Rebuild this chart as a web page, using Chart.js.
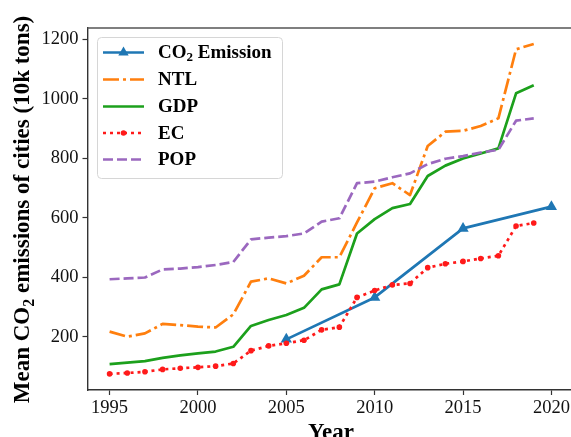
<!DOCTYPE html>
<html>
<head>
<meta charset="utf-8">
<script src="https://cdn.jsdelivr.net/npm/chart.js@4"></script>
<style>
  html, body { margin: 0; padding: 0; background: #fff; overflow: hidden; width: 571px; height: 437px; }
  canvas { display: block; }
</style>
</head>
<body>
<canvas id="c" width="580" height="437"></canvas>
<script>
// Annual series, 1995-2019 (10k tons, mean per city)
const years = [1995, 1996, 1997, 1998, 1999, 2000, 2001, 2002, 2003, 2004, 2005, 2006, 2007,
               2008, 2009, 2010, 2011, 2012, 2013, 2014, 2015, 2016, 2017, 2018, 2019];
const ntl = [218, 201, 212, 244, 240, 235, 232, 276, 386, 397, 380, 406, 468,
             468, 585, 700, 717, 677, 842, 890, 893, 909, 935, 1167, 1185];
const gdp = [109, 114, 119, 130, 138, 145, 151, 167, 237, 257, 274, 298, 360,
             377, 548, 596, 633, 647, 741, 776, 800, 817, 834, 1019, 1046];
const ec  = [76, 79, 83, 91, 95, 98, 102, 111, 154, 170, 179, 189, 224,
             233, 333, 356, 375, 380, 433, 446, 454, 464, 473, 573, 583];
const pop = [394, 397, 400, 427, 430, 435, 442, 452, 528, 534, 539, 548, 588,
             599, 717, 722, 737, 750, 781, 799, 808, 820, 829, 927, 935];
// Five-yearly emission figures
const co2Years = [2005, 2010, 2015, 2020];
const co2 = [192, 333, 565, 638];

const xTicks = [1995, 2000, 2005, 2010, 2015, 2020];
const yTicks = [200, 400, 600, 800, 1000, 1200];

const SERIF = '"Liberation Serif", "Times New Roman", "DejaVu Serif", serif';
const C_BLUE = '#1f77b4', C_ORANGE = '#ff7f0e', C_GREEN = '#1ca01c', C_RED = '#ff1a1a', C_PURPLE = '#9b68bf';
const LW = 2.7;

const pts = (xs, ys) => xs.map((x, i) => ({ x: x, y: ys[i] }));

const series = [
  { key: 'co2', label: 'Emission', color: C_BLUE, dash: [], marker: 'triangle' },
  { key: 'ntl', label: 'NTL', color: C_ORANGE, dash: [16, 4, 3, 4], marker: null },
  { key: 'gdp', label: 'GDP', color: C_GREEN, dash: [], marker: null },
  { key: 'ec',  label: 'EC',  color: C_RED, dash: [3, 4], marker: 'circle' },
  { key: 'pop', label: 'POP', color: C_PURPLE, dash: [10, 4], marker: null }
];

function drawMarker(ctx, type, x, y, color) {
  ctx.save();
  ctx.fillStyle = color;
  ctx.setLineDash([]);
  ctx.beginPath();
  if (type === 'triangle') {
    const r = 6;
    ctx.moveTo(x, y - r);
    ctx.lineTo(x + r * 0.866, y + r * 0.5);
    ctx.lineTo(x - r * 0.866, y + r * 0.5);
    ctx.closePath();
  } else {
    ctx.arc(x, y, 2.8, 0, Math.PI * 2);
  }
  ctx.fill();
  ctx.restore();
}

// Text with a lowered, smaller "2" for the CO2 formula
function subParts(pre, post, size) {
  return [
    { t: pre, f: 'bold ' + size + 'px ' + SERIF, dy: 0 },
    { t: '2', f: 'bold ' + Math.round(size * 0.7) + 'px ' + SERIF, dy: size * 0.22 },
    { t: post, f: 'bold ' + size + 'px ' + SERIF, dy: 0 }
  ];
}
function partsWidth(ctx, parts) {
  let w = 0;
  parts.forEach(p => { ctx.font = p.f; w += ctx.measureText(p.t).width; });
  return w;
}
function drawParts(ctx, parts, x, y) {
  parts.forEach(p => {
    ctx.font = p.f;
    ctx.fillText(p.t, x, y + p.dy);
    x += ctx.measureText(p.t).width;
  });
}

const decorPlugin = {
  id: 'decor',
  afterDatasetsDraw(chart) {
    const ctx = chart.ctx;
    const a = chart.chartArea;
    ctx.save();
    // top and right frame lines
    ctx.strokeStyle = '#555';
    ctx.lineWidth = 1.4;
    ctx.beginPath();
    ctx.moveTo(a.left, a.top);
    ctx.lineTo(a.right, a.top);
    ctx.lineTo(a.right, a.bottom);
    ctx.stroke();

    // legend box
    const bx = 97, by = 37, bw = 185, bh = 141;
    ctx.fillStyle = 'rgba(255,255,255,0.85)';
    ctx.strokeStyle = '#d6d6d6';
    ctx.lineWidth = 1;
    ctx.beginPath();
    ctx.roundRect(bx + 0.5, by + 0.5, bw, bh, 4);
    ctx.fill();
    ctx.stroke();

    const rowY = [52.5, 79.5, 106.5, 133, 159.5];
    ctx.textBaseline = 'middle';
    ctx.fillStyle = '#000';
    series.forEach((s, i) => {
      const y = rowY[i];
      ctx.save();
      ctx.strokeStyle = s.color;
      ctx.lineWidth = LW;
      ctx.setLineDash(s.dash);
      ctx.beginPath();
      ctx.moveTo(103, y);
      ctx.lineTo(144, y);
      ctx.stroke();
      ctx.restore();
      if (s.marker) drawMarker(ctx, s.marker, 123.5, y, s.color);
      ctx.fillStyle = '#000';
      if (s.key === 'co2') {
        drawParts(ctx, subParts('CO', ' ' + s.label, 19), 158, y + 1);
      } else {
        ctx.font = 'bold 19px ' + SERIF;
        ctx.fillText(s.label, 158, y + 1);
      }
    });

    // axis titles
    ctx.fillStyle = '#000';
    ctx.textBaseline = 'alphabetic';
    ctx.font = 'bold 23px ' + SERIF;
    ctx.textAlign = 'center';
    ctx.fillText('Year', 331, 438.5);
    ctx.textAlign = 'left';

    const yp = subParts('Mean CO', ' emissions of cities (10k tons)', 23);
    const w = partsWidth(ctx, yp);
    ctx.translate(29, 209.5);
    ctx.rotate(-Math.PI / 2);
    drawParts(ctx, yp, -w / 2, 0);
    ctx.restore();
  }
};

const datasets = [
  { data: pts(co2Years, co2), borderColor: C_BLUE, backgroundColor: C_BLUE, borderWidth: LW,
    pointStyle: 'triangle', pointRadius: 6.5, pointBorderWidth: 0, order: 5 },
  { data: pts(years, ntl), borderColor: C_ORANGE, borderWidth: LW, borderDash: [16, 4, 3, 4],
    pointRadius: 0, order: 4 },
  { data: pts(years, gdp), borderColor: C_GREEN, borderWidth: LW, pointRadius: 0, order: 3 },
  { data: pts(years, ec), borderColor: C_RED, backgroundColor: C_RED, borderWidth: LW, borderDash: [3, 4],
    pointStyle: 'circle', pointRadius: 2.8, pointBorderWidth: 0, order: 2 },
  { data: pts(years, pop), borderColor: C_PURPLE, borderWidth: LW, borderDash: [10, 4],
    pointRadius: 0, order: 1 }
];

new Chart(document.getElementById('c'), {
  type: 'line',
  data: { datasets: datasets },
  options: {
    responsive: false,
    animation: false,
    layout: { padding: { left: 0, top: 28, right: 6, bottom: 0 } },
    elements: { line: { tension: 0, fill: false, borderCapStyle: 'butt', borderJoinStyle: 'round' } },
    plugins: { legend: { display: false }, tooltip: { enabled: false } },
    scales: {
      x: {
        type: 'linear',
        min: 1993.75, max: 2021.25,
        afterBuildTicks: s => { s.ticks = xTicks.map(v => ({ value: v })); },
        afterFit: s => { s.height = 47; },
        grid: { drawOnChartArea: false, drawTicks: true, tickLength: 5, tickWidth: 1.2, tickColor: '#333' },
        border: { display: true, color: '#333', width: 1.4 },
        ticks: { font: { family: SERIF, size: 18.5 }, color: '#111', padding: 2, maxRotation: 0,
                 callback: v => String(v) }
      },
      y: {
        type: 'linear',
        min: 21.8, max: 1238.6,
        afterBuildTicks: s => { s.ticks = yTicks.map(v => ({ value: v })); },
        afterFit: s => { s.width = 87.5; },
        grid: { drawOnChartArea: false, drawTicks: true, tickLength: 5, tickWidth: 1.2, tickColor: '#333' },
        border: { display: true, color: '#333', width: 1.4 },
        ticks: { font: { family: SERIF, size: 18.5 }, color: '#111', padding: 4,
                 callback: v => String(v) }
      }
    }
  },
  plugins: [decorPlugin]
});
</script>
</body>
</html>
